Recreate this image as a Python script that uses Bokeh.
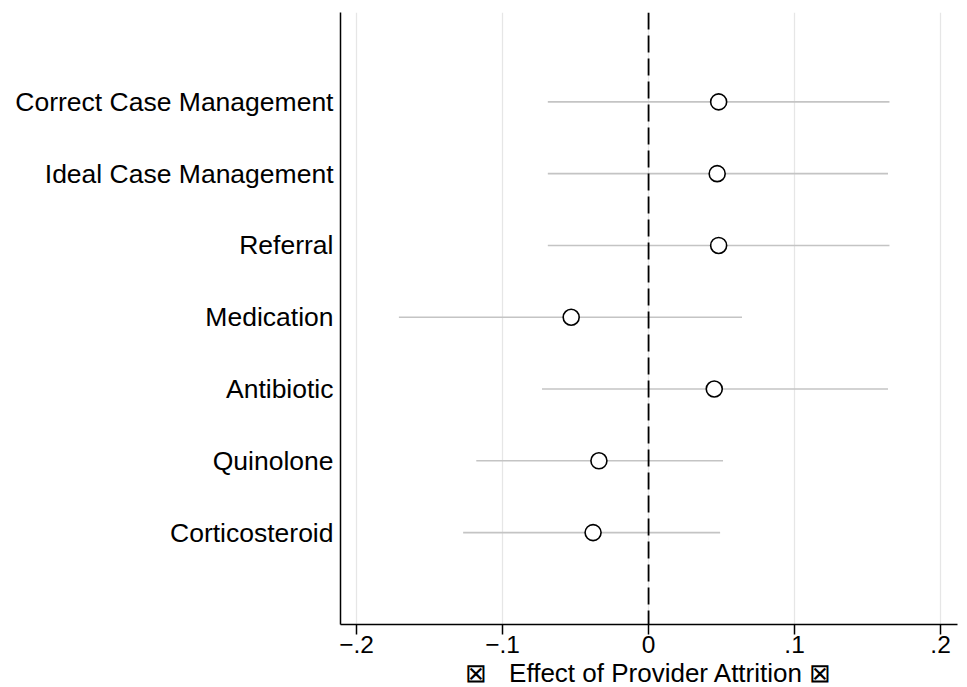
from bokeh.plotting import figure
from bokeh.models import ColumnDataSource, Span, FixedTicker, Range1d, Title
from bokeh.embed import file_html
from bokeh.resources import INLINE

outcomes = ["Correct Case Management", "Ideal Case Management", "Referral",
            "Medication", "Antibiotic", "Quinolone", "Corticosteroid"]
estimates = [0.048, 0.047, 0.048, -0.053, 0.045, -0.034, -0.038]
ci_low = [-0.069, -0.069, -0.069, -0.171, -0.073, -0.118, -0.127]
ci_high = [0.165, 0.164, 0.165, 0.064, 0.164, 0.051, 0.049]
x_ticks = [-0.2, -0.1, 0.0, 0.1, 0.2]
x_tick_labels = ["\u2212.2", "\u2212.1", "0", ".1", ".2"]
x_title = "\u22a0\u00a0\u00a0\u00a0Effect of Provider Attrition \u22a0"

n = len(outcomes)
ypos = [n - i for i in range(n)]

src = ColumnDataSource(dict(y=ypos, est=estimates, lo=ci_low, hi=ci_high))

p = figure(width=967, height=687, output_backend="svg", toolbar_location=None,
           x_range=Range1d(-0.211, 0.2116), y_range=Range1d(-0.28, 8.245),
           min_border_left=340, min_border_right=10, min_border_top=12, min_border_bottom=0)
p.outline_line_color = None
p.background_fill_color = "white"
p.border_fill_color = "white"

p.segment(x0="lo", x1="hi", y0="y", y1="y", source=src, line_color="#c4c4c4", line_width=1.6)
p.add_layout(Span(location=0, dimension="height", line_color="black",
                  line_dash="17 6", line_width=1.8))
p.scatter(x="est", y="y", source=src, size=16, fill_color="white",
          line_color="black", line_width=1.6)

FONT = "Liberation Sans"
p.xaxis.ticker = FixedTicker(ticks=x_ticks)
p.xaxis.major_label_overrides = {t: l for t, l in zip(x_ticks, x_tick_labels)}
p.xaxis.major_label_text_font = FONT
p.xaxis.major_label_text_font_size = "24.5px"
p.xaxis.major_label_text_color = "black"
p.xaxis.major_label_standoff = 1
p.xaxis.major_tick_out = 10
p.xaxis.major_tick_in = 0
p.xaxis.minor_tick_line_color = None
p.xaxis.axis_line_color = "black"
p.xaxis.axis_line_width = 1.5
p.xaxis.major_tick_line_color = "black"
p.xaxis.major_tick_line_width = 1.5

p.add_layout(Title(text=x_title, align="center", offset=-7, standoff=0,
                   text_font=FONT, text_font_size="26px", text_color="black",
                   text_font_style="normal"), "below")

p.yaxis.ticker = FixedTicker(ticks=ypos)
p.yaxis.major_label_overrides = {y: o for y, o in zip(ypos, outcomes)}
p.yaxis.major_label_text_font = FONT
p.yaxis.major_label_text_font_size = "26.5px"
p.yaxis.major_label_text_color = "black"
p.yaxis.major_label_standoff = 1
p.yaxis.major_tick_line_color = None
p.yaxis.minor_tick_line_color = None
p.yaxis.axis_line_color = "black"
p.yaxis.axis_line_width = 1.5

p.xgrid.grid_line_color = "#e6e6e6"
p.xgrid.grid_line_width = 1.3
p.ygrid.grid_line_color = None

open("out.html", "w").write(file_html(p, INLINE))
